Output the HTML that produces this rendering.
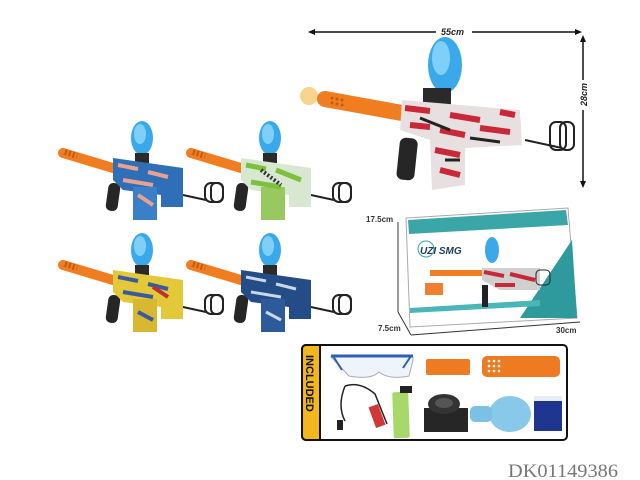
<!DOCTYPE html>
<html><head><style>
html,body{margin:0;padding:0;background:#fff;}
svg{display:block;}
</style></head><body>
<svg width="640" height="480" viewBox="0 0 640 480" xmlns="http://www.w3.org/2000/svg" font-family="Liberation Sans, sans-serif">
<defs>
<g id="gunbase">
  <line x1="0" y1="3" x2="50" y2="18" stroke="#f07d20" stroke-width="10" stroke-linecap="round"/>
  <line x1="2" y1="2" x2="14" y2="6" stroke="#c85a10" stroke-width="6" stroke-dasharray="2 2"/>
  <ellipse cx="79" cy="-12" rx="11" ry="17" fill="#3ba8ea"/>
  <ellipse cx="77" cy="-16" rx="6" ry="10" fill="#7fd0f8"/>
  <rect x="72" y="3" width="14" height="10" fill="#2a2a2a"/>
  <rect x="44" y="33" width="12" height="28" rx="5" fill="#262626" transform="rotate(8 50 47)"/>
  <line x1="120" y1="45" x2="143" y2="50" stroke="#222" stroke-width="2"/>
  <rect x="142" y="33" width="18" height="19" rx="6" fill="none" stroke="#222" stroke-width="2"/>
  <rect x="148" y="33" width="12" height="19" rx="5" fill="none" stroke="#222" stroke-width="2"/>
</g>
</defs>

<g transform="translate(63,150)">
  <use href="#gunbase"/>
  <polygon points="50,8 120,18 120,57 98,57 98,45 60,40 50,30" fill="#2f6fb8"/>
  <rect x="70" y="37" width="24" height="33" fill="#3a80c8"/>
  <path d="M55 15 l20 4 m10 3 l20 5 M60 30 l30 5 M75 45 l15 10" stroke="#e8a090" stroke-width="4"/>
</g>
<g transform="translate(191,150)">
  <use href="#gunbase"/>
  <polygon points="50,8 120,18 120,57 98,57 98,45 60,40 50,30" fill="#d8e8d0"/>
  <rect x="70" y="37" width="24" height="33" fill="#98c860"/>
  <path d="M55 15 l20 4 M85 20 l25 10 M60 32 l30 5" stroke="#7cc040" stroke-width="5"/>
  <path d="M70 20 l20 15" stroke="#333" stroke-width="4" stroke-dasharray="2 2"/>
</g>
<g transform="translate(63,262)">
  <use href="#gunbase"/>
  <polygon points="50,8 120,18 120,57 98,57 98,45 60,40 50,30" fill="#e3c83a"/>
  <rect x="70" y="37" width="24" height="33" fill="#d8b830"/>
  <path d="M55 15 l20 4 m10 3 l20 5 M60 30 l30 5 M75 50 l15 8" stroke="#3a5aa0" stroke-width="4"/>
  <path d="M90 25 l15 10" stroke="#c03030" stroke-width="4"/>
</g>
<g transform="translate(191,262)">
  <use href="#gunbase"/>
  <polygon points="50,8 120,18 120,57 98,57 98,45 60,40 50,30" fill="#244c86"/>
  <rect x="70" y="37" width="24" height="33" fill="#2d5a98"/>
  <path d="M55 15 l20 4 m10 3 l20 5 M60 30 l30 5 M75 50 l15 8" stroke="#c8d8e8" stroke-width="3"/>
</g>

<circle cx="309" cy="96" r="9" fill="#f8c060" opacity="0.7"/>
<line x1="525" y1="140" x2="562" y2="148" stroke="#222" stroke-width="2"/>
<rect x="550" y="122" width="16" height="28" rx="6" fill="none" stroke="#222" stroke-width="2"/>
<rect x="560" y="122" width="14" height="28" rx="6" fill="none" stroke="#222" stroke-width="2"/>
<line x1="325" y1="99" x2="402" y2="113" stroke="#f07d20" stroke-width="16" stroke-linecap="round"/>
<g fill="#c85a10"><circle cx="332" cy="98" r="1.5"/><circle cx="337" cy="99" r="1.5"/><circle cx="342" cy="100" r="1.5"/><circle cx="332" cy="103" r="1.5"/><circle cx="337" cy="104" r="1.5"/><circle cx="342" cy="105" r="1.5"/></g>
<ellipse cx="445" cy="65" rx="17" ry="28" fill="#3ba8ea"/>
<ellipse cx="441" cy="58" rx="9" ry="17" fill="#7fd0f8"/>
<rect x="423" y="88" width="28" height="17" fill="#2a2a2a"/>
<rect x="398" y="138" width="18" height="42" rx="6" fill="#262626" transform="rotate(6 407 160)"/>
<polygon points="402,100 520,110 522,145 465,148 465,185 432,190 430,140 400,130" fill="#e8e0e0"/>
<path d="M405 108 l25 3 m20 4 l30 5 M410 125 l20 2 M440 130 l25 5 M480 128 l30 4 M435 150 l25 5 M440 170 l20 5 M500 112 l15 3" stroke="#c82838" stroke-width="6"/>
<path d="M420 118 l30 12 M470 138 l30 4 M445 160 l15 0" stroke="#222" stroke-width="3"/>

<line x1="310" y1="32" x2="436" y2="32" stroke="#111" stroke-width="1.5"/>
<line x1="472" y1="32" x2="580" y2="32" stroke="#111" stroke-width="1.5"/>
<polygon points="308,32 315,29 315,35" fill="#111"/>
<polygon points="582,32 575,29 575,35" fill="#111"/>
<text x="441" y="35" font-size="9" font-weight="bold" font-style="italic" fill="#222">55cm</text>
<line x1="583" y1="37" x2="583" y2="80" stroke="#111" stroke-width="1.5"/>
<line x1="583" y1="110" x2="583" y2="186" stroke="#111" stroke-width="1.5"/>
<polygon points="583,35 580,42 586,42" fill="#111"/>
<polygon points="583,188 580,181 586,181" fill="#111"/>
<text x="0" y="0" font-size="9" font-weight="bold" font-style="italic" fill="#222" transform="translate(587,106) rotate(-90)">28cm</text>

<line x1="398" y1="222" x2="398" y2="312" stroke="#333" stroke-width="1"/>
<line x1="398" y1="312" x2="411" y2="335" stroke="#333" stroke-width="1"/>
<line x1="411" y1="335" x2="580" y2="322" stroke="#333" stroke-width="1"/>
<polygon points="406,218 568,208 577,318 410,327" fill="#fff" stroke="#aaa"/>
<polygon points="408,220 566,210 568,225 409,234" fill="#3aa6a8"/>
<polygon points="520,318 577,318 572,240" fill="#2e9a9e"/>
<polygon points="410,308 540,300 540,306 410,313" fill="#4ab6b8"/>
<text x="420" y="254" font-size="10" font-weight="bold" font-style="italic" fill="#1e3a5a">UZI SMG</text>
<circle cx="426" cy="249" r="8" fill="none" stroke="#3aa6a8"/>
<line x1="430" y1="273" x2="482" y2="273" stroke="#f07d20" stroke-width="6"/>
<ellipse cx="492" cy="250" rx="7" ry="13" fill="#3ba8ea"/>
<polygon points="482,268 540,268 540,290 500,290 482,280" fill="#d0d0d0"/>
<path d="M484 272 l20 4 M510 274 l25 6 M495 285 l20 0" stroke="#c82838" stroke-width="4"/>
<rect x="482" y="285" width="6" height="22" fill="#222"/>
<rect x="536" y="270" width="14" height="15" rx="4" fill="none" stroke="#222"/>
<rect x="425" y="283" width="18" height="12" fill="#f08030"/>
<text x="366" y="222" font-size="8" font-weight="bold" fill="#333">17.5cm</text>
<text x="378" y="331" font-size="8" font-weight="bold" fill="#333">7.5cm</text>
<text x="556" y="333" font-size="8" font-weight="bold" fill="#333">30cm</text>

<rect x="302" y="345" width="265" height="95" rx="4" fill="#fff" stroke="#111" stroke-width="2"/>
<path d="M302 349 a4 4 0 0 1 4 -4 h14 v95 h-14 a4 4 0 0 1 -4 -4 z" fill="#f2b61e" stroke="#111" stroke-width="2"/>
<text x="0" y="0" font-size="11" font-weight="bold" fill="#111" transform="translate(306,355) rotate(90)">INCLUDED</text>
<path d="M331 357 h82 v3 l-4 16 q-20 4 -30 -4 q-8 8 -30 4 z" fill="#eef4fa" stroke="#aab" stroke-width="1"/>
<line x1="331" y1="356" x2="413" y2="356" stroke="#2f5fb0" stroke-width="3"/>
<line x1="333" y1="356" x2="342" y2="370" stroke="#2f5fb0" stroke-width="2"/>
<line x1="411" y1="356" x2="403" y2="368" stroke="#2f5fb0" stroke-width="2"/>
<rect x="426" y="359" width="44" height="16" rx="2" fill="#ee7a22"/>
<rect x="482" y="356" width="78" height="21" rx="5" fill="#ee7a22"/>
<g fill="#fff"><circle cx="489" cy="361" r="1.3"/><circle cx="494" cy="361" r="1.3"/><circle cx="499" cy="361" r="1.3"/><circle cx="489" cy="366" r="1.3"/><circle cx="494" cy="366" r="1.3"/><circle cx="499" cy="366" r="1.3"/><circle cx="489" cy="371" r="1.3"/><circle cx="494" cy="371" r="1.3"/><circle cx="499" cy="371" r="1.3"/></g>
<path d="M345 386 q-8 20 0 35 M345 386 q15 -5 30 8 l12 30" fill="none" stroke="#222" stroke-width="1.5"/>
<rect x="372" y="405" width="10" height="22" fill="#d03838" transform="rotate(-20 377 416)"/>
<rect x="337" y="420" width="6" height="10" fill="#222"/>
<rect x="393" y="392" width="16" height="46" rx="2" fill="#a6d86a" transform="rotate(-2 401 415)"/>
<rect x="400" y="386" width="12" height="7" fill="#222"/>
<rect x="424" y="408" width="44" height="24" fill="#262626"/>
<ellipse cx="444" cy="404" rx="16" ry="10" fill="#333"/>
<ellipse cx="444" cy="403" rx="9" ry="5" fill="#555"/>
<ellipse cx="510" cy="414" rx="21" ry="18" fill="#88c8e8"/>
<rect x="470" y="406" width="22" height="16" rx="5" fill="#7cc0e4"/>
<rect x="534" y="396" width="28" height="35" fill="#1e3690"/>
<rect x="534" y="396" width="28" height="5" fill="#e8eef4"/>

<text x="508" y="477" font-family="Liberation Serif, serif" font-size="19" fill="#777" textLength="110" lengthAdjust="spacingAndGlyphs">DK01149386</text>
</svg>
</body></html>
